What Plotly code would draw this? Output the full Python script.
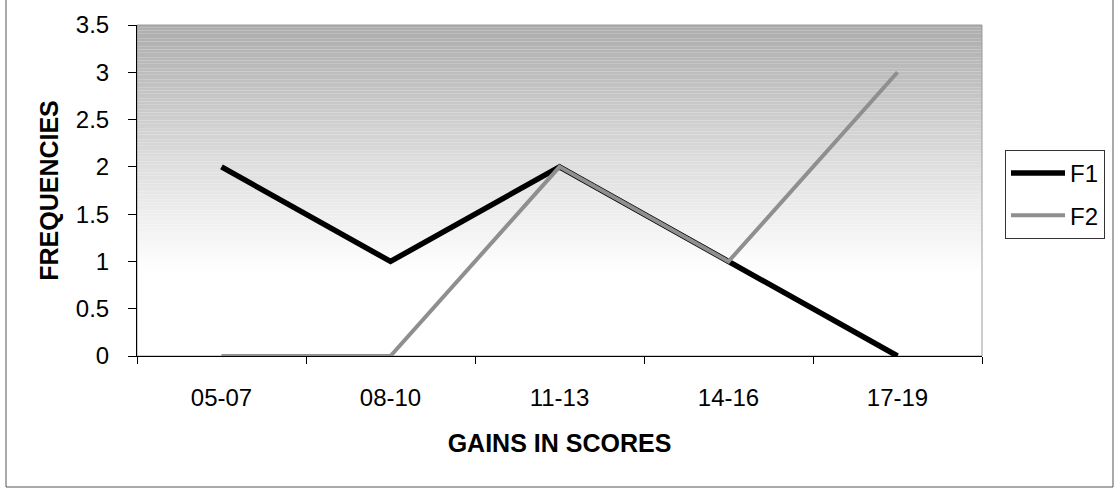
import plotly.graph_objects as go

# Score-gain bands and the frequency of each for the two groups
categories = ["05-07", "08-10", "11-13", "14-16", "17-19"]
f1_values = [2, 1, 2, 1, 0]
f2_values = [0, 0, 2, 1, 3]
y_ticks = [0, 0.5, 1, 1.5, 2, 2.5, 3, 3.5]

FONT = "Arial, Liberation Sans, sans-serif"

fig = go.Figure()
fig.add_trace(go.Scatter(
    x=categories, y=f1_values, name="F1", mode="lines",
    line=dict(color="#000000", width=5.5), legendgroup="a",
))
fig.add_trace(go.Scatter(
    x=categories, y=f2_values, name="F2", mode="lines",
    line=dict(color="#8f8f8f", width=4), legendgroup="b",
))

# Plot-area background: grey at the top fading to white further down
shapes = []
n_strips = 90
y_top, y_fade = 3.5, 0.9
for i in range(n_strips):
    y0 = y_fade + (y_top - y_fade) * i / n_strips
    y1 = y_fade + (y_top - y_fade) * (i + 1) / n_strips
    t = (i + 0.5) / n_strips
    g = int(round(254 - (254 - 172) * t ** 1.1))
    shapes.append(dict(
        type="rect", xref="x domain", yref="y", x0=0, x1=1, y0=y0, y1=y1,
        fillcolor=f"rgb({g},{g},{g})", line=dict(width=0), layer="below",
    ))
# Plot-area frame
shapes.append(dict(
    type="rect", xref="x domain", yref="y domain", x0=0, x1=1, y0=0, y1=1,
    line=dict(color="#9a9a9a", width=1), layer="below",
))
# Chart frame
W, H = 1117, 496
L, R, T, B = 137, 135, 25, 140
pw, ph = W - L - R, H - T - B
shapes.append(dict(
    type="rect", xref="paper", yref="paper",
    x0=(6 - L) / pw, x1=(1113 - L) / pw,
    y0=(H - B - 487) / ph, y1=(H - B + 4) / ph,
    line=dict(color="#555555", width=1),
))

fig.update_layout(
    width=W, height=H,
    margin=dict(l=L, r=R, t=T, b=B),
    paper_bgcolor="white", plot_bgcolor="white",
    font=dict(family=FONT, size=24, color="black"),
    shapes=shapes,
    showlegend=True,
    legend=dict(
        x=(1005 - L) / pw, y=(H - B - 150) / ph, xanchor="left", yanchor="top",
        bordercolor="#333333", borderwidth=1, bgcolor="white",
        font=dict(family=FONT, size=24), tracegroupgap=8,
        itemwidth=54,
    ),
    xaxis=dict(
        type="category", categoryorder="array", categoryarray=categories,
        range=[-0.5, 4.5], showgrid=False, zeroline=False,
        showline=True, linecolor="black", linewidth=1,
        ticks="outside", tickson="boundaries", ticklen=7, tickcolor="black",
        ticklabelstandoff=20,
        tickfont=dict(family=FONT, size=24),
        title=dict(text="GAINS IN SCORES", standoff=24,
                   font=dict(family=FONT, size=25, weight="bold")),
    ),
    yaxis=dict(
        range=[0, 3.5], tickvals=y_ticks, ticktext=[f"{v:g}" for v in y_ticks],
        showgrid=False, zeroline=False,
        showline=True, linecolor="black", linewidth=1,
        ticks="outside", ticklen=8, tickcolor="black",
        ticklabelstandoff=14,
        tickfont=dict(family=FONT, size=24),
        title=dict(text="FREQUENCIES", standoff=10,
                   font=dict(family=FONT, size=25, weight="bold")),
    ),
)

fig.write_html("out.html")
